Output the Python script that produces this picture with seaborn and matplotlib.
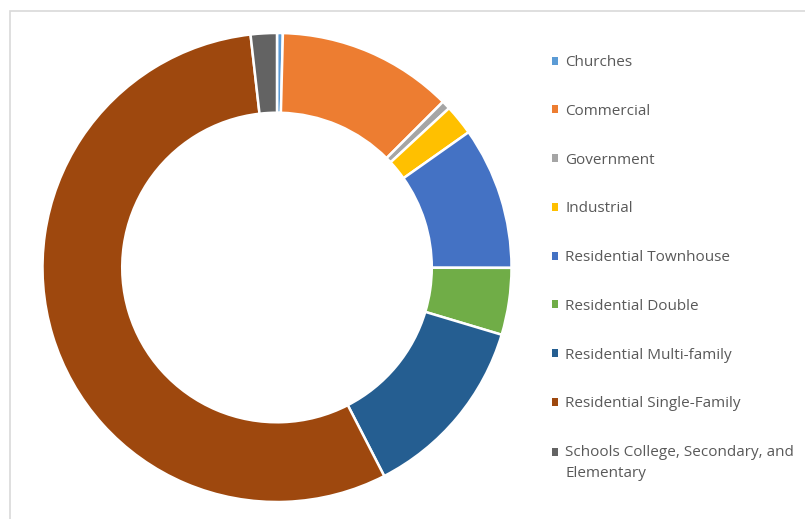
import matplotlib
matplotlib.use("Agg")
import matplotlib.pyplot as plt
import seaborn as sns
from matplotlib.patches import Patch, Rectangle
from matplotlib.legend_handler import HandlerPatch

categories = ["Churches", "Commercial", "Government", "Industrial",
              "Residential Townhouse", "Residential Double",
              "Residential Multi-family", "Residential Single-Family",
              "Schools College, Secondary, and\nElementary"]
values = [0.4, 12.1, 0.6, 2.1, 9.8, 4.6, 12.8, 55.7, 1.8]
colors = ["#5B9BD5", "#ED7D31", "#A5A5A5", "#FFC000", "#4472C4",
          "#70AD47", "#255E91", "#9E480E", "#636363"]

sns.set_theme(style="white")
plt.rcParams['font.family'] = ['Open Sans', 'DejaVu Sans']

W, H = 805, 519
fig = plt.figure(figsize=(W/100, H/100), dpi=100)

# frame (only left and top edges visible)
fig.patches.append(Rectangle((9.5/W, -0.1), 1.2, 1.1 - 10.5/H, transform=fig.transFigure,
                             fill=False, edgecolor="#D9D9D9", linewidth=1.2))

cx, cy, r = 277, 267.5, 234.5
ax = fig.add_axes([(cx - r)/W, (H - cy - r)/H, 2*r/W, 2*r/H])
ax.pie(values, colors=colors, startangle=90, counterclock=False, radius=1,
       wedgeprops=dict(width=0.34, edgecolor="white", linewidth=1.8))
ax.set_xlim(-1, 1)
ax.set_ylim(-1, 1)
ax.set_aspect("equal")
ax.axis("off")


class TopHandler(HandlerPatch):
    def __init__(self, shift, **kw):
        super().__init__(**kw)
        self.shift = shift

    def create_artists(self, legend, orig_handle, xdescent, ydescent,
                       width, height, fontsize, trans):
        arts = super().create_artists(legend, orig_handle, xdescent, ydescent,
                                      width, height, fontsize, trans)
        for a in arts:
            a.set_y(a.get_y() + self.shift)
        return arts


handles = [Patch(facecolor=c, edgecolor="none") for c in colors]
leg = fig.legend(handles, categories, loc="upper left",
                 bbox_to_anchor=(552/W, 1 - 55/H), frameon=False,
                 fontsize=11, labelcolor="#595959",
                 handlelength=0.42, handleheight=0.42, handletextpad=0.45,
                 labelspacing=2.21, borderaxespad=0, borderpad=0,
                 handler_map={handles[-1]: TopHandler(8)})
leg.get_texts()[-1].set_linespacing(1.55)

fig.savefig("out.png", dpi=100)
